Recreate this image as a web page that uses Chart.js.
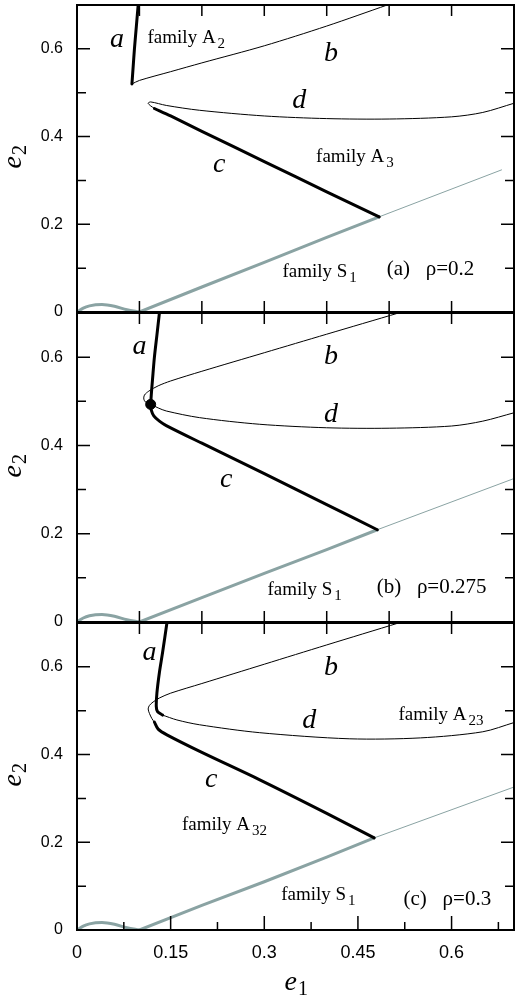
<!DOCTYPE html>
<html lang="en">
<head>
<meta charset="UTF-8">
<title>Families of periodic orbits in the e1-e2 plane</title>
<script src="https://cdn.jsdelivr.net/npm/chart.js"></script>
<style>
  body { margin: 0; background: #fff; }
  #wrap { position: relative; width: 516px; height: 1001px; overflow: hidden; background: #fff; }
  canvas { position: absolute; left: 0; }
</style>
</head>
<body>
<div id="wrap">
  <canvas id="panelA" width="516" height="387" style="top:-35px;width:516px;height:387px"></canvas>
  <canvas id="panelB" width="516" height="389" style="top:273px;width:516px;height:389px"></canvas>
  <canvas id="panelC" width="516" height="418" style="top:583px;width:516px;height:418px"></canvas>
</div>
<script>
// ---- curves, points are [e1, e2] ----

// small loop of family S1 near the origin (same in all panels)
const s1Loop = [[0, 0], [0.01, 0.009], [0.02, 0.014], [0.04, 0.017], [0.06, 0.013], [0.08, 0.005], [0.1, 0]];

// (a) rho = 0.2
const aA = [[0.088, 0.52], [0.090, 0.56], [0.092, 0.60], [0.095, 0.65], [0.098, 0.70]];
const bA = [[0.088, 0.52], [0.10, 0.528], [0.15, 0.548], [0.2, 0.568], [0.3, 0.607], [0.4, 0.652], [0.497, 0.70]];
const dA = [[0.124, 0.464], [0.118, 0.470], [0.114, 0.476], [0.118, 0.479], [0.143, 0.471], [0.196, 0.460],
            [0.3, 0.447], [0.4, 0.441], [0.5, 0.440], [0.6, 0.445], [0.65, 0.455], [0.70, 0.476]];
const cA = [[0.124, 0.464], [0.15, 0.447], [0.2, 0.412], [0.3, 0.343], [0.4, 0.274], [0.484, 0.217]];
const s1ThickA = [[0.1, 0], [0.2, 0.057], [0.3, 0.113], [0.4, 0.17], [0.484, 0.217]];
const s1ThinA = [[0.484, 0.217], [0.68, 0.324]];

// (b) rho = 0.275
const aB = [[0.132, 0.70], [0.128, 0.65], [0.124, 0.60], [0.121, 0.55], [0.119, 0.515], [0.118, 0.493]];
const bdB = [[0.515, 0.70], [0.4, 0.652], [0.3, 0.610], [0.2, 0.568], [0.15, 0.546], [0.13, 0.535], [0.115, 0.523],
             [0.108, 0.514], [0.107, 0.505], [0.11, 0.498], [0.118, 0.493], [0.13, 0.485], [0.143, 0.478],
             [0.196, 0.463], [0.292, 0.448], [0.4, 0.440], [0.5, 0.439], [0.6, 0.444], [0.65, 0.455], [0.70, 0.474]];
const cB = [[0.118, 0.493], [0.119, 0.48], [0.123, 0.467], [0.132, 0.455], [0.143, 0.445], [0.2, 0.405],
            [0.3, 0.336], [0.4, 0.266], [0.481, 0.209]];
const dotB = [[0.118, 0.493]];
const s1ThickB = [[0.1, 0], [0.2, 0.055], [0.3, 0.11], [0.4, 0.164], [0.481, 0.209]];
const s1ThinB = [[0.481, 0.209], [0.70, 0.325]];

// (c) rho = 0.3
const aC = [[0.144, 0.70], [0.137, 0.632], [0.132, 0.587], [0.128, 0.54], [0.127, 0.51], [0.129, 0.498], [0.137, 0.49]];
const dC = [[0.137, 0.49], [0.16, 0.479], [0.196, 0.468], [0.292, 0.45], [0.436, 0.436], [0.55, 0.438],
            [0.65, 0.452], [0.70, 0.473]];
const bC = [[0.515, 0.70], [0.4, 0.650], [0.3, 0.606], [0.2, 0.562], [0.15, 0.540], [0.132, 0.529], [0.122, 0.52],
            [0.116, 0.512], [0.114, 0.504], [0.116, 0.494], [0.12, 0.482], [0.124, 0.474]];
const cC = [[0.124, 0.474], [0.13, 0.458], [0.144, 0.445], [0.2, 0.405], [0.292, 0.343], [0.4, 0.266], [0.476, 0.21]];
const s1ThickC = [[0.1, 0], [0.2, 0.056], [0.3, 0.11], [0.4, 0.166], [0.476, 0.21]];
const s1ThinC = [[0.476, 0.21], [0.70, 0.326]];

// ---- axes ----
const xLabels = [0, 0.15, 0.3, 0.45, 0.6];
const xMinorC = [0.075, 0.225, 0.375, 0.525, 0.675];
const xTenths = [0.1, 0.2, 0.3, 0.4, 0.5, 0.6];
const yLabels = [0, 0.2, 0.4, 0.6];
const yMinor = [0.1, 0.3, 0.5];

// ---- text in the panels ----
const notesA = [
  {t: 'a', x: 0.064, y: 0.604, it: true}, {t: 'b', x: 0.407, y: 0.572, it: true},
  {t: 'd', x: 0.356, y: 0.465, it: true}, {t: 'c', x: 0.228, y: 0.319, it: true},
  {t: 'family A', sub: '2', x: 0.113, y: 0.613}, {t: 'family A', sub: '3', x: 0.383, y: 0.342},
  {t: 'family S', sub: '1', x: 0.329, y: 0.08}, {t: '(a)   \u03c1=0.2', x: 0.496, y: 0.084}
];
const notesB = [
  {t: 'a', x: 0.10, y: 0.607, it: true}, {t: 'b', x: 0.407, y: 0.584, it: true},
  {t: 'd', x: 0.407, y: 0.452, it: true}, {t: 'c', x: 0.239, y: 0.305, it: true},
  {t: 'family S', sub: '1', x: 0.305, y: 0.061}, {t: '(b)   \u03c1=0.275', x: 0.48, y: 0.066}
];
const notesC = [
  {t: 'a', x: 0.116, y: 0.616, it: true}, {t: 'b', x: 0.407, y: 0.582, it: true},
  {t: 'd', x: 0.372, y: 0.461, it: true}, {t: 'c', x: 0.215, y: 0.326, it: true},
  {t: 'family A', sub: '23', x: 0.515, y: 0.479}, {t: 'family A', sub: '32', x: 0.168, y: 0.228},
  {t: 'family S', sub: '1', x: 0.327, y: 0.068}, {t: '(c)   \u03c1=0.3', x: 0.523, y: 0.057}
];

const BLACK = '#000';
const GREY = '#8aa3a3';
const SERIF = '"Liberation Serif", "Times New Roman", serif';

Chart.defaults.font.family = '"Liberation Sans", Arial, sans-serif';
Chart.defaults.color = '#000';

function line(arr, color, width, tension) {
  return {
    data: arr.map(p => ({x: p[0], y: p[1]})),
    borderColor: color, backgroundColor: color, borderWidth: width,
    showLine: true, pointRadius: 0, fill: false,
    tension: tension === undefined ? 0.3 : tension,
    borderCapStyle: 'round', borderJoinStyle: 'round'
  };
}

function s1Sets(thick, thin) {
  const loop = line(s1Loop, GREY, 3, 0);
  loop.cubicInterpolationMode = 'monotone';
  return [loop, line(thick, GREY, 3, 0), line(thin, GREY, 1, 0)];
}

// per panel: ticks on each side and the notes
const panelCfg = {
  panelA: {top: [[xTenths, 11]], bottom: [[xTenths, 11]], notes: notesA, xAxis: false},
  panelB: {top: [[xTenths, 11]], bottom: [[xTenths, 11]], notes: notesB, xAxis: false},
  panelC: {top: [[xTenths, 11]], bottom: [[xLabels, 14], [xMinorC, 8]], notes: notesC, xAxis: true}
};

function drawSubText(ctx, x, y, main, sub, size, italic, subSize, gap) {
  ctx.textAlign = 'left';
  ctx.textBaseline = 'alphabetic';
  ctx.font = (italic ? 'italic ' : '') + size + 'px ' + SERIF;
  ctx.fillText(main, x, y);
  const w = ctx.measureText(main).width;
  ctx.font = subSize + 'px ' + SERIF;
  ctx.fillText(sub, x + w + gap, y + 5);
}

const framePlugin = {
  id: 'frame',
  afterDatasetsDraw(chart) {
    const cfg = panelCfg[chart.canvas.id];
    const {ctx, chartArea: ca} = chart;
    const xs = chart.scales.x, ys = chart.scales.y;
    ctx.save();
    ctx.strokeStyle = '#000';
    ctx.lineWidth = 1.5;
    ctx.beginPath();
    cfg.top.forEach(([vals, len]) => vals.forEach(v => {
      const px = xs.getPixelForValue(v);
      ctx.moveTo(px, ca.top); ctx.lineTo(px, ca.top + len);
    }));
    cfg.bottom.forEach(([vals, len]) => vals.forEach(v => {
      if (v === 0) return;
      const px = xs.getPixelForValue(v);
      ctx.moveTo(px, ca.bottom); ctx.lineTo(px, ca.bottom - len);
    }));
    [[yLabels, 13], [yMinor, 9]].forEach(([vals, len]) => vals.forEach(v => {
      const py = ys.getPixelForValue(v);
      ctx.moveTo(ca.left, py); ctx.lineTo(ca.left + len, py);
      ctx.moveTo(ca.right, py); ctx.lineTo(ca.right - len, py);
    }));
    ctx.stroke();
    ctx.lineWidth = 2;
    ctx.strokeRect(ca.left, ca.top, ca.right - ca.left, ca.bottom - ca.top);

    ctx.fillStyle = '#000';
    cfg.notes.forEach(n => {
      const px = xs.getPixelForValue(n.x), py = ys.getPixelForValue(n.y);
      if (n.it) {
        ctx.font = 'italic 28px ' + SERIF;
        ctx.textAlign = 'center';
        ctx.textBaseline = 'alphabetic';
        ctx.fillText(n.t, px, py);
      } else if (n.sub) {
        drawSubText(ctx, px, py, n.t, n.sub, 19, false, 15, 2);
      } else {
        ctx.font = '21px ' + SERIF;
        ctx.textAlign = 'left';
        ctx.textBaseline = 'alphabetic';
        ctx.fillText(n.t, px, py);
      }
    });

    // y title, rotated
    ctx.save();
    ctx.translate(21, (ca.top + ca.bottom) / 2 - 4);
    ctx.rotate(-Math.PI / 2);
    drawSubText(ctx, -14, 0, 'e', '2', 28, true, 20, 1);
    ctx.restore();

    if (cfg.xAxis) {
      drawSubText(ctx, (ca.left + ca.right) / 2 - 11, ca.bottom + 60, 'e', '1', 28, true, 20, 1);
    }
    ctx.restore();
  }
};

function makePanel(id, datasets) {
  const cfg = panelCfg[id];
  return new Chart(document.getElementById(id), {
    type: 'scatter',
    data: {datasets: datasets},
    options: {
      responsive: false,
      animation: false,
      events: [],
      layout: {autoPadding: false, padding: {top: 40, bottom: cfg.xAxis ? 0 : 40, left: 0, right: 2}},
      plugins: {legend: {display: false}, tooltip: {enabled: false}},
      scales: {
        x: {
          type: 'linear', min: 0, max: 0.7,
          display: cfg.xAxis,
          grid: {display: false, drawTicks: false},
          border: {display: false},
          afterBuildTicks: s => { s.ticks = xLabels.map(v => ({value: v})); },
          afterFit: s => { if (cfg.xAxis) s.height = 71; },
          ticks: {padding: 12, font: {size: 18}, callback: v => String(v), maxRotation: 0, autoSkip: false}
        },
        y: {
          type: 'linear', min: 0, max: 0.7,
          grid: {display: false, drawTicks: false},
          border: {display: false},
          afterBuildTicks: s => { s.ticks = yLabels.map(v => ({value: v})); },
          afterFit: s => { s.width = 77; },
          ticks: {padding: 14, font: {size: 16}, callback: v => String(v)}
        }
      }
    },
    plugins: [framePlugin]
  });
}

makePanel('panelA', [
  line(aA, BLACK, 3), line(bA, BLACK, 1), line(dA, BLACK, 1), line(cA, BLACK, 3),
  ...s1Sets(s1ThickA, s1ThinA)
]);

const dot = line(dotB, BLACK, 1);
dot.showLine = false;
dot.pointRadius = 5;
makePanel('panelB', [
  line(aB, BLACK, 3), line(bdB, BLACK, 1), line(cB, BLACK, 3), dot,
  ...s1Sets(s1ThickB, s1ThinB)
]);

makePanel('panelC', [
  line(aC, BLACK, 3), line(dC, BLACK, 1), line(bC, BLACK, 1), line(cC, BLACK, 3),
  ...s1Sets(s1ThickC, s1ThinC)
]);
</script>
</body>
</html>
